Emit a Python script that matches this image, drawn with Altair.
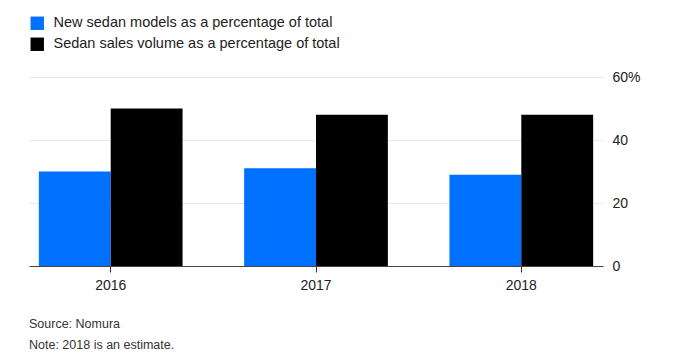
import altair as alt
import pandas as pd

years = ["2016", "2017", "2018"]
series_names = ["New sedan models as a percentage of total",
                "Sedan sales volume as a percentage of total"]
new_models = [30, 31, 29]
sales_volume = [50, 48, 48]
y_ticks = [0, 20, 40, 60]
footer = ["Source: Nomura", "Note: 2018 is an estimate."]

rows = []
for i, yr in enumerate(years):
    rows.append({"year": yr, "series": series_names[0], "value": new_models[i]})
    rows.append({"year": yr, "series": series_names[1], "value": sales_volume[i]})
df = pd.DataFrame(rows)

FONT = "Liberation Sans"

chart = alt.Chart(df).mark_bar().encode(
    x=alt.X("year:N", sort=years,
            scale=alt.Scale(paddingInner=0.3, paddingOuter=0.048),
            axis=alt.Axis(title=None, labelAngle=0, labelFontSize=14, labelColor="#222",
                          labelFont=FONT, labelPadding=6, tickSize=6, tickColor="#333",
                          domainColor="#444", grid=False)),
    xOffset=alt.XOffset("series:N", sort=series_names),
    y=alt.Y("value:Q", scale=alt.Scale(domain=[0, 60]),
            axis=alt.Axis(title=None, orient="right", values=y_ticks, ticks=False, domain=False,
                          labelAlign="left", labelPadding=9, labelFontSize=14, labelColor="#222",
                          labelFont=FONT, gridColor="#e8e8e8",
                          labelExpr="datum.value == 60 ? datum.label + '%' : datum.label")),
    color=alt.Color("series:N", sort=series_names,
                    scale=alt.Scale(domain=series_names, range=["#0070FF", "#000000"]),
                    legend=alt.Legend(title=None, orient="none", legendX=1, legendY=-61,
                                      symbolType="square", symbolSize=180, symbolStrokeWidth=0,
                                      symbolOpacity=1, labelFontSize=14.5, labelFont=FONT,
                                      labelColor="#222", rowPadding=6, labelOffset=9,
                                      labelLimit=500)),
).properties(
    width=574, height=189,
    padding={"left": 21, "top": 69, "right": 63, "bottom": 85},
    autosize=alt.AutoSizeParams(type="none"),
    title=alt.TitleParams(text=footer, orient="bottom", anchor="start", fontSize=12.5,
                          font=FONT, fontWeight="normal", color="#333",
                          lineHeight=21, offset=26, dx=0),
).configure_view(stroke=None)

chart.save("out.html", embed_options={"renderer": "svg", "actions": False})
